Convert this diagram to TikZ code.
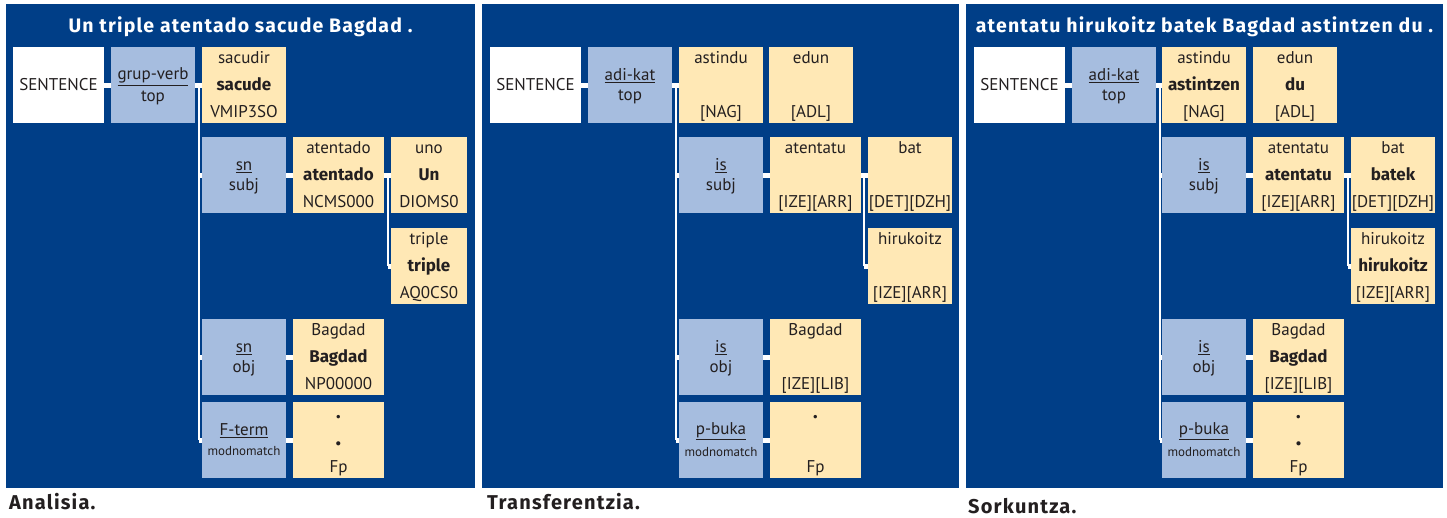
\documentclass[tikz,border=0pt]{standalone}
\usepackage{fontspec}
\setmainfont{PT Sans}
\newfontfamily\heavy{Fira Sans}
\newfontfamily\heavywide{Fira Sans}[LetterSpace=6]
\usetikzlibrary{calc}

\definecolor{navy}{RGB}{0,62,135}
\definecolor{catblue}{RGB}{166,189,223}
\definecolor{wordyel}{RGB}{255,232,181}
\definecolor{ink}{RGB}{35,31,32}

% fixed-height strut so every text line sits on the same grid
\newcommand\lnst{\rule[-4pt]{0pt}{19pt}}
\newcommand\three[3]{\lnst#1\\\lnst#2\\\lnst#3}
\newcommand\two[2]{\lnst#1\\\lnst#2}
\newcommand\bw[1]{{\heavy\bfseries #1}}
\newcommand\pt{{\heavy\bfseries\fontsize{19}{20}\selectfont .}}
\newcommand\bpt{{\heavy\bfseries\fontsize{23}{20}\selectfont .}}
% box given by its corners: style, name, x1, y1, x2, y2, text
\newcommand\tbox[7]{\node[#1,minimum width={#5-#3},minimum height={#6-#4}] (#2) at ({(#3+#5)/2},{(#4+#6)/2}) {#7};}

\tikzset{
  cell/.style={inner sep=0pt, outer sep=0pt, text=ink, align=center},
  sentbox/.style={cell, fill=white, font=\fontsize{17}{20}\selectfont},
  catbox/.style={cell, fill=catblue, font=\fontsize{17}{20}\selectfont},
  wordbox/.style={cell, fill=wordyel, font=\fontsize{17}{27}\selectfont},
  link/.style={draw=white, line width=5pt},
  trunk/.style={draw=white, line width=2pt},
  panel/.style={fill=navy},
  title/.style={text=white, font=\heavywide\fontsize{19.5}{22}\selectfont\bfseries, anchor=base, inner sep=0pt},
  caption/.style={text=ink, font=\heavywide\fontsize{20}{22}\selectfont\bfseries, anchor=base west, inner sep=0pt},
}
\newcommand\modtxt{{\fontsize{13}{20}\selectfont modnomatch}}

\begin{document}
\begin{tikzpicture}[x=1pt,y=-1pt]
\useasboundingbox (0,0) rectangle (1447,517);
\fill[white] (0,0) rectangle (1447,517);

% panels
\fill[panel] (6,4) rectangle (475,488);
\fill[panel] (482,4) rectangle (959,488);
\fill[panel] (966,4) rectangle (1443,488);

% titles and captions
\node[title] (ttl1) at (240.5,32) {Un triple atentado sacude Bagdad .};
\node[title] (ttl3) at (1204.5,32) {atentatu hirukoitz batek Bagdad astintzen du .};
\node[caption] (cap1) at (9,509) {Analisia.};
\node[caption] (cap2) at (487,509) {Transferentzia.};
\node[caption] (cap3) at (968,513) {Sorkuntza.};

% ---------------- analysis tree ----------------
\tbox{sentbox}{sent1}{13}{47}{104}{123}{SENTENCE}
\tbox{catbox}{gv1}{111}{47}{195}{123}{\two{\underline{grup-verb}}{top}}
\tbox{wordbox}{sac1}{202}{47}{286}{123}{\three{sacudir}{\bw{sacude}}{VMIP3SO}}
\tbox{catbox}{sn1}{202}{137}{286}{213}{\two{\underline{sn}}{subj}}
\tbox{wordbox}{at1}{293}{137}{384}{213}{\three{atentado}{\bw{atentado}}{NCMS000}}
\tbox{wordbox}{uno1}{391}{137}{467}{213}{\three{uno}{\bw{Un}}{DIOMS0}}
\tbox{wordbox}{tri1}{391}{228}{467}{304}{\three{triple}{\bw{triple}}{AQ0CS0}}
\tbox{catbox}{sno1}{202}{319}{286}{395}{\two{\underline{sn}}{obj}}
\tbox{wordbox}{bag1}{293}{319}{384}{395}{\three{Bagdad}{\bw{Bagdad}}{NP00000}}
\tbox{catbox}{ft1}{202}{402}{286}{478}{\two{\underline{F-term}}{\modtxt}}
\tbox{wordbox}{fp1}{293}{402}{384}{478}{\three{\pt}{\bpt}{Fp}}

\draw[link] (sent1.east) -- (gv1.west);
\draw[link] (gv1.east) -- (sac1.west);
\coordinate (tr1) at ($(gv1.east)+(4,0)$);
\draw[trunk] (tr1) -- (tr1 |- ft1.west);
\draw[link] (tr1 |- sn1.west) -- (sn1.west);
\draw[link] (tr1 |- sno1.west) -- (sno1.west);
\draw[link] (tr1 |- ft1.west) -- (ft1.west);
\draw[link] (sn1.east) -- (at1.west);
\draw[link] (sno1.east) -- (bag1.west);
\draw[link] (ft1.east) -- (fp1.west);
\draw[link] (at1.east) -- (uno1.west);
\coordinate (ts1) at ($(at1.east)+(4,0)$);
\draw[trunk] (ts1) -- (ts1 |- tri1.west);
\draw[link] (ts1 |- tri1.west) -- (tri1.west);

% ---------------- transfer tree ----------------
\tbox{sentbox}{sent2}{490}{47}{581}{123}{SENTENCE}
\tbox{catbox}{ak2}{588}{47}{672}{123}{\two{\underline{adi-kat}}{top}}
\tbox{wordbox}{ast2}{679}{47}{763}{123}{\three{astindu}{}{[NAG]}}
\tbox{wordbox}{edun2}{769}{47}{853}{123}{\three{edun}{}{[ADL]}}
\tbox{catbox}{is2}{679}{137}{763}{213}{\two{\underline{is}}{subj}}
\tbox{wordbox}{at2}{770}{137}{861}{213}{\three{atentatu}{}{[IZE][ARR]}}
\tbox{wordbox}{bat2}{868}{137}{952}{213}{\three{bat}{}{[DET][DZH]}}
\tbox{wordbox}{hir2}{868}{228}{952}{304}{\three{hirukoitz}{}{[IZE][ARR]}}
\tbox{catbox}{iso2}{679}{319}{763}{395}{\two{\underline{is}}{obj}}
\tbox{wordbox}{bag2}{770}{319}{861}{395}{\three{Bagdad}{}{[IZE][LIB]}}
\tbox{catbox}{pb2}{679}{402}{763}{478}{\two{\underline{p-buka}}{\modtxt}}
\tbox{wordbox}{fp2}{770}{402}{861}{478}{\three{\pt}{}{Fp}}

\draw[link] (sent2.east) -- (ak2.west);
\draw[link] (ak2.east) -- (ast2.west);
\coordinate (tr2) at ($(ak2.east)+(4,0)$);
\draw[trunk] (tr2) -- (tr2 |- pb2.west);
\draw[link] (tr2 |- is2.west) -- (is2.west);
\draw[link] (tr2 |- iso2.west) -- (iso2.west);
\draw[link] (tr2 |- pb2.west) -- (pb2.west);
\draw[link] (is2.east) -- (at2.west);
\draw[link] (iso2.east) -- (bag2.west);
\draw[link] (pb2.east) -- (fp2.west);
\draw[link] (at2.east) -- (bat2.west);
\coordinate (ts2) at ($(at2.east)+(3,0)$);
\draw[trunk] (ts2) -- (ts2 |- hir2.west);
\draw[link] (ts2 |- hir2.west) -- (hir2.west);

% ---------------- generation tree ----------------
\tbox{sentbox}{sent3}{974}{47}{1065}{123}{SENTENCE}
\tbox{catbox}{ak3}{1072}{47}{1156}{123}{\two{\underline{adi-kat}}{top}}
\tbox{wordbox}{ast3}{1162}{47}{1246}{123}{\three{astindu}{\bw{astintzen}}{[NAG]}}
\tbox{wordbox}{edun3}{1253}{47}{1337}{123}{\three{edun}{\bw{du}}{[ADL]}}
\tbox{catbox}{is3}{1162}{137}{1246}{213}{\two{\underline{is}}{subj}}
\tbox{wordbox}{at3}{1253}{137}{1344}{213}{\three{atentatu}{\bw{atentatu}}{[IZE][ARR]}}
\tbox{wordbox}{bat3}{1351}{137}{1435}{213}{\three{bat}{\bw{batek}}{[DET][DZH]}}
\tbox{wordbox}{hir3}{1351}{228}{1435}{304}{\three{hirukoitz}{\bw{hirukoitz}}{[IZE][ARR]}}
\tbox{catbox}{iso3}{1162}{319}{1246}{395}{\two{\underline{is}}{obj}}
\tbox{wordbox}{bag3}{1253}{319}{1344}{395}{\three{Bagdad}{\bw{Bagdad}}{[IZE][LIB]}}
\tbox{catbox}{pb3}{1162}{402}{1246}{478}{\two{\underline{p-buka}}{\modtxt}}
\tbox{wordbox}{fp3}{1253}{402}{1344}{478}{\three{\pt}{\bpt}{Fp}}

\draw[link] (sent3.east) -- (ak3.west);
\draw[link] (ak3.east) -- (ast3.west);
\coordinate (tr3) at ($(ak3.east)+(4,0)$);
\draw[trunk] (tr3) -- (tr3 |- pb3.west);
\draw[link] (tr3 |- is3.west) -- (is3.west);
\draw[link] (tr3 |- iso3.west) -- (iso3.west);
\draw[link] (tr3 |- pb3.west) -- (pb3.west);
\draw[link] (is3.east) -- (at3.west);
\draw[link] (iso3.east) -- (bag3.west);
\draw[link] (pb3.east) -- (fp3.west);
\draw[link] (at3.east) -- (bat3.west);
\coordinate (ts3) at ($(at3.east)+(4,0)$);
\draw[trunk] (ts3) -- (ts3 |- hir3.west);
\draw[link] (ts3 |- hir3.west) -- (hir3.west);
\end{tikzpicture}
\end{document}
